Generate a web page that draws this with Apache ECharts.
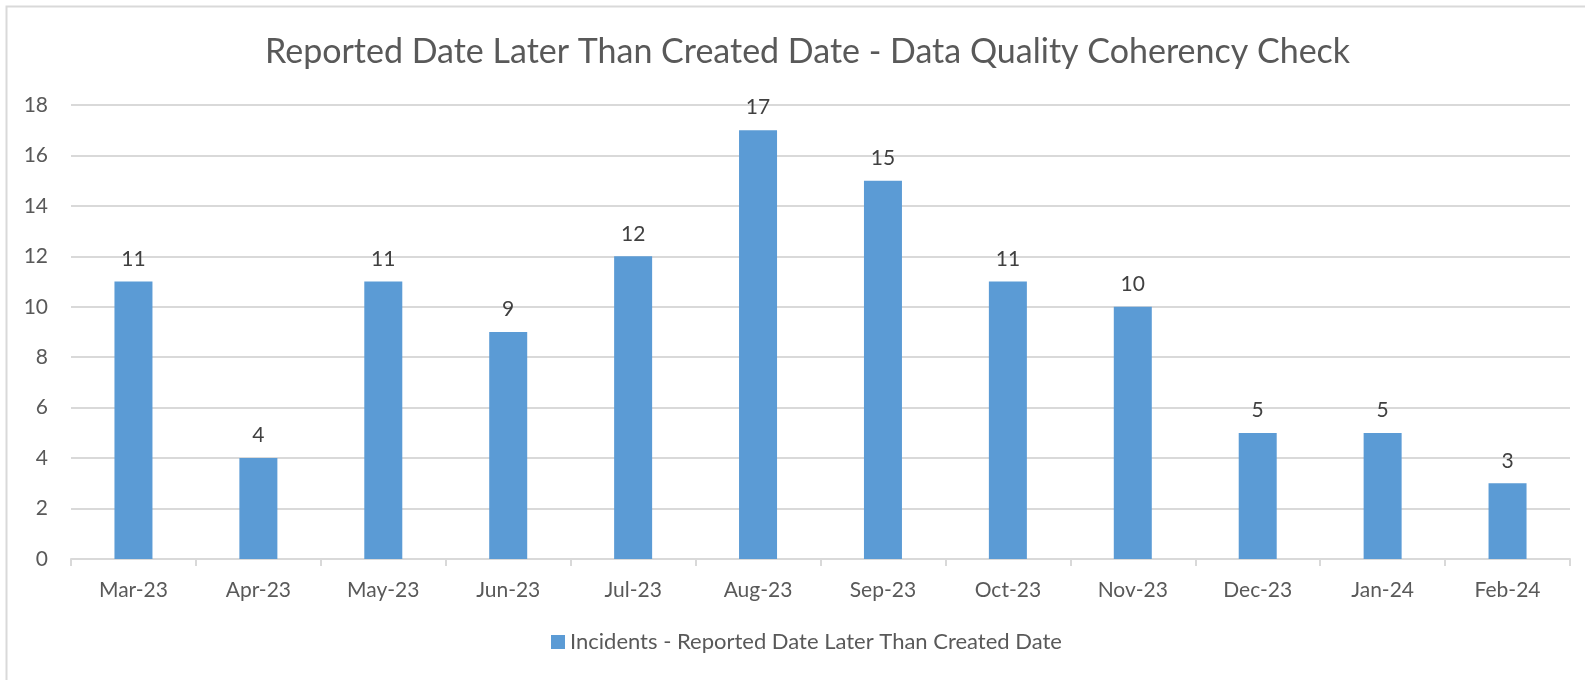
<!DOCTYPE html>
<html lang="en">
<head>
    <meta charset="UTF-8">
    <title>Data Quality Coherency Check</title>
    <script type="text/javascript" src="https://cdn.jsdelivr.net/npm/echarts@6/dist/echarts.min.js"></script>
    <style>
        html, body { margin: 0; padding: 0; background: #fff; }
    </style>
</head>
<body>
    <div id="main" style="width:1585px;height:680px;"></div>
</body>
<script type="text/javascript">
    var months = ['Mar-23', 'Apr-23', 'May-23', 'Jun-23', 'Jul-23', 'Aug-23',
        'Sep-23', 'Oct-23', 'Nov-23', 'Dec-23', 'Jan-24', 'Feb-24'];
    var incidents = [11, 4, 11, 9, 12, 17, 15, 11, 10, 5, 5, 3];
    var seriesName = 'Incidents - Reported Date Later Than Created Date';

    var textColor = '#595959';
    var lineColor = '#D9D9D9';
    var font = 'Lato, "Open Sans", sans-serif';

    var myChart = echarts.init(document.getElementById('main'));

    myChart.setOption({
        animation: false,
        title: {
            text: 'Reported Date Later Than Created Date - Data Quality Coherency Check',
            left: 260,
            top: 30,
            textStyle: {
                color: textColor,
                fontFamily: font,
                fontWeight: 'normal',
                fontSize: 34
            }
        },
        // light frame of the chart area, open to the right and bottom like the source
        graphic: [{
            type: 'rect',
            shape: { x: 6.5, y: 6.5, width: 1700, height: 800 },
            style: { fill: null, stroke: lineColor, lineWidth: 2 },
            silent: true
        }],
        legend: {
            bottom: 22,
            left: 546,
            icon: 'rect',
            itemWidth: 14,
            itemHeight: 14,
            itemGap: 6,
            textStyle: { color: textColor, fontFamily: font, fontSize: 22 },
            data: [seriesName]
        },
        grid: {
            left: 71,
            right: 15,
            top: 105,
            bottom: 121
        },
        xAxis: {
            type: 'category',
            data: months,
            axisLine: { lineStyle: { color: lineColor, width: 2 } },
            axisTick: { show: true, length: 7, lineStyle: { color: lineColor, width: 2 } },
            axisLabel: { color: textColor, fontFamily: font, fontSize: 21, margin: 21 }
        },
        yAxis: {
            type: 'value',
            min: 0,
            max: 18,
            interval: 2,
            axisLine: { show: false },
            axisTick: { show: false },
            axisLabel: { color: textColor, fontFamily: font, fontSize: 21, margin: 23 },
            splitLine: { lineStyle: { color: lineColor, width: 2 } }
        },
        series: [{
            name: seriesName,
            type: 'bar',
            data: incidents,
            barWidth: 38,
            itemStyle: { color: '#5B9BD5' },
            label: {
                show: true,
                position: 'top',
                distance: 12,
                color: '#404040',
                fontFamily: font,
                fontSize: 21
            }
        }]
    });
</script>
</html>
